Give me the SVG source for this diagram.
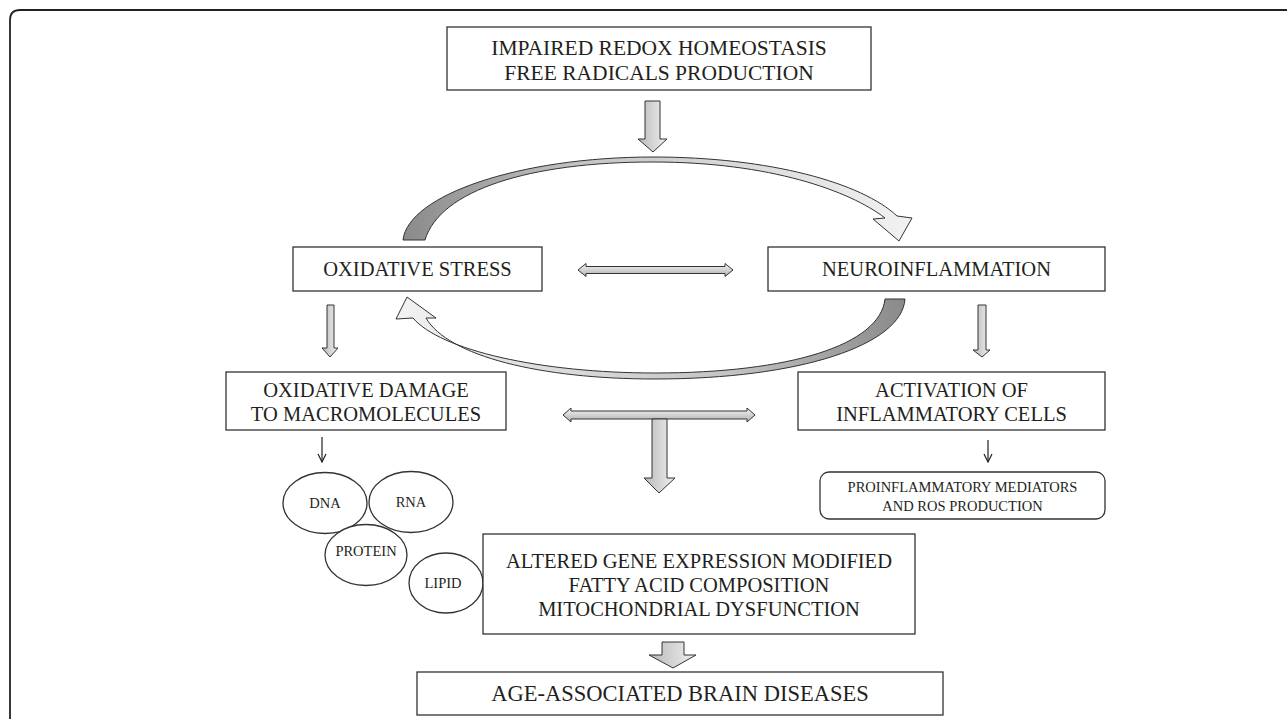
<svg xmlns="http://www.w3.org/2000/svg" width="1287" height="719" viewBox="0 0 1287 719">
<defs>
<linearGradient id="gv" x1="0" y1="0" x2="1" y2="0"><stop offset="0" stop-color="#b8b8b8"/><stop offset="1" stop-color="#f0f0f0"/></linearGradient>
<linearGradient id="gh" x1="0" y1="0" x2="0" y2="1"><stop offset="0" stop-color="#f4f4f4"/><stop offset="1" stop-color="#b0b0b0"/></linearGradient>
<linearGradient id="gtop" gradientUnits="userSpaceOnUse" x1="403" y1="0" x2="912" y2="0"><stop offset="0" stop-color="#8a8a8a"/><stop offset="0.35" stop-color="#c4c4c4"/><stop offset="1" stop-color="#f2f2f2"/></linearGradient>
<linearGradient id="gbot" gradientUnits="userSpaceOnUse" x1="396" y1="0" x2="905" y2="0"><stop offset="0" stop-color="#f2f2f2"/><stop offset="0.65" stop-color="#c4c4c4"/><stop offset="1" stop-color="#8a8a8a"/></linearGradient>
<marker id="ah" viewBox="0 0 10 10" refX="9" refY="5" markerWidth="10" markerHeight="10" markerUnits="userSpaceOnUse" orient="auto"><path d="M1,1 L9,5 L1,9" fill="none" stroke="#222" stroke-width="1.2"/></marker>
</defs>
<style>
.box{fill:#fff;stroke:#333;stroke-width:1.3}
.t{font-family:"Liberation Serif","Times New Roman",serif;fill:#231f20;text-anchor:middle}
.big{font-size:20.5px}
.sm{font-size:14.5px}
.blk{stroke:#333;stroke-width:1}
.ln{stroke:#222;stroke-width:1.2;fill:none}
</style>
<path d="M10,719 L10,20 Q10,10 20,10 L1287,10" fill="none" stroke="#222" stroke-width="1.8"/>

<g id="connectors">
<path class="blk" fill="url(#gv)" d="M645,101 H660 V139 H667 L653,152 L638,139 H645 Z"/>
<path class="blk" fill="url(#gtop)" d="M403,240 C408,195 520,157 653,157 C770,157 862,183 897,216 L912,218 L899,241 L873,219 L885,218 C850,191 770,162 653,162 C530,162 440,190 425,240 Z"/>
<path class="blk" fill="url(#gbot)" d="M905,299 C902,345 800,379 655,379 C540,379 448,356 426,318 L436,318 L407,297 L396,319 L413,318 C440,350 540,373 655,373 C790,373 880,345 885,299 Z"/>
<path class="blk" fill="url(#gh)" d="M578,270 L586,263.5 V266.5 H725 V263.5 L733,270 L725,276.5 V273.5 H586 V276.5 Z"/>
<path class="blk" fill="url(#gv)" d="M327,305 H334 V348 H338 L330,357 L322,348 H327 Z"/>
<path class="blk" fill="url(#gv)" d="M978,305 H986 V350 H990 L982,357 L973,350 H978 Z"/>
<path class="blk" fill="url(#gh)" d="M563,415 L571,408 V411 H747 V408 L755,415 L747,422 V419 H571 V422 Z"/>
<path class="blk" fill="url(#gv)" d="M652,419 H667 V478 H675 L659,493 L644,478 H652 Z"/>
<path class="blk" fill="url(#gv)" d="M662,642 H684 V655 H696 L673,668 L649,655 H662 Z"/>
<line class="ln" x1="322" y1="437" x2="322" y2="462" marker-end="url(#ah)"/>
<line class="ln" x1="988" y1="440" x2="988" y2="462" marker-end="url(#ah)"/>
</g>

<g id="redox">
<rect class="box" x="447" y="27" width="424" height="63"/>
<text class="t" x="659" y="55" font-size="21.5">IMPAIRED REDOX HOMEOSTASIS</text>
<text class="t" x="659" y="80" font-size="21.5">FREE RADICALS PRODUCTION</text>
</g>
<g id="oxstress">
<rect class="box" x="293" y="247" width="249" height="44"/>
<text class="t big" x="417.5" y="276">OXIDATIVE STRESS</text>
</g>
<g id="neuroinfl">
<rect class="box" x="768" y="247" width="337" height="44"/>
<text class="t big" x="936.5" y="276">NEUROINFLAMMATION</text>
</g>
<g id="oxdamage">
<rect class="box" x="226" y="372" width="280" height="58"/>
<text class="t big" x="366" y="397">OXIDATIVE DAMAGE</text>
<text class="t big" x="366" y="421">TO MACROMOLECULES</text>
</g>
<g id="activation">
<rect class="box" x="798" y="372" width="307" height="58"/>
<text class="t big" x="951.5" y="397">ACTIVATION OF</text>
<text class="t big" x="951.5" y="421">INFLAMMATORY CELLS</text>
</g>
<g id="dna">
<ellipse class="box" cx="325" cy="503" rx="42" ry="30.5"/>
<text class="t sm" x="325" y="508">DNA</text>
</g>
<g id="rna">
<ellipse class="box" cx="411" cy="502" rx="42" ry="30.5"/>
<text class="t sm" x="411" y="507">RNA</text>
</g>
<g id="protein">
<ellipse class="box" cx="366" cy="555" rx="41" ry="30.5"/>
<text class="t sm" x="366" y="556">PROTEIN</text>
</g>
<g id="lipid">
<ellipse class="box" cx="446" cy="583" rx="37" ry="30"/>
<text class="t sm" x="443" y="588">LIPID</text>
</g>
<g id="mediators">
<rect class="box" x="820" y="472" width="285" height="47" rx="9"/>
<text class="t sm" x="962.5" y="492">PROINFLAMMATORY MEDIATORS</text>
<text class="t sm" x="962.5" y="511">AND ROS PRODUCTION</text>
</g>
<g id="altered">
<rect class="box" x="483" y="534" width="432" height="100"/>
<text class="t big" x="699" y="568">ALTERED GENE EXPRESSION MODIFIED</text>
<text class="t big" x="699" y="592">FATTY ACID COMPOSITION</text>
<text class="t big" x="699" y="616">MITOCHONDRIAL DYSFUNCTION</text>
</g>
<g id="brain">
<rect class="box" x="417" y="672" width="526" height="43"/>
<text class="t" x="680" y="701" font-size="22.5">AGE-ASSOCIATED BRAIN DISEASES</text>
</g>
</svg>
